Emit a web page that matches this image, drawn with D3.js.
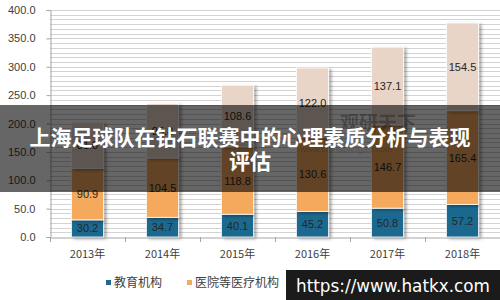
<!DOCTYPE html>
<html><head><meta charset="utf-8">
<script src="https://cdn.jsdelivr.net/npm/d3@7/dist/d3.min.js"></script>
<style>body{margin:0;background:#fff}svg{display:block}</style>
</head><body>
<svg id="c" width="500" height="300"></svg>
<script>
const years = ['2013年','2014年','2015年','2016年','2017年','2018年'];
const eduValues = [30.2, 34.7, 40.1, 45.2, 50.8, 57.2];
const hospValues = [90.9, 104.5, 118.8, 130.6, 146.7, 165.4];
const psyValues = [81.0, 95.8, 108.6, 122.0, 137.1, 154.5];
const seriesNames = ['教育机构', '医院等医疗机构', '专业心理咨询机构'];
const yTicks = [0, 50, 100, 150, 200, 250, 300, 350, 400];
const titleLines = ['上海足球队在钻石联赛中的心理素质分析与表现', '评估'];
const watermark = 'https://www.hatkx.com';

const colors = ['#1f6990', '#f5a95d', '#e9d5c7'];
const svg = d3.select('#c');
const font = '"Liberation Sans", Arial, "Noto Sans CJK SC", sans-serif';
const cjk = '"Noto Sans CJK SC", "Liberation Sans", sans-serif';

const x = d3.scaleBand().domain(years).range([50, 500]).paddingInner(0.57).paddingOuter(0.285);
const y = d3.scaleLinear().domain([0, 400]).range([237, 10]);

const defs = svg.append('defs');
const f = defs.append('filter').attr('id','sh').attr('x','-20%').attr('y','-20%').attr('width','150%').attr('height','150%');
f.append('feDropShadow').attr('dx',2.5).attr('dy',1.5).attr('stdDeviation',1.5).attr('flood-color','#000').attr('flood-opacity',0.35);

// minor gridlines
const grid = d3.range(0, 400.001, 50/6);
svg.append('g').selectAll('line').data(grid.filter(v => v > 0)).join('line')
  .attr('x1', 50).attr('x2', 500)
  .attr('y1', d => Math.round(y(d)) + 0.5).attr('y2', d => Math.round(y(d)) + 0.5)
  .attr('stroke', '#d3d3d3').attr('stroke-width', 1);

// stacked data
const rows = years.map((yr, i) => ({year: yr, s0: eduValues[i], s1: hospValues[i], s2: psyValues[i]}));
const stack = d3.stack().keys(['s0','s1','s2'])(rows);

const gBars = svg.append('g');
stack.forEach((layer, li) => {
  gBars.append('g').selectAll('rect').data(layer).join('rect')
    .attr('x', d => x(d.data.year))
    .attr('width', x.bandwidth())
    .attr('y', d => y(d[1]))
    .attr('height', d => y(d[0]) - y(d[1]))
    .attr('fill', colors[li])
    .attr('stroke', '#fff').attr('stroke-width', 0.8)
    .attr('filter', 'url(#sh)');
});

// faint logo watermark (behind the labels)
svg.append('text').attr('x', 340).attr('y', 130).attr('font-family', cjk).attr('font-weight', 'bold')
  .attr('font-size', 19).attr('fill', '#333').attr('opacity', 0.35).text('观研天下');
svg.append('text').attr('x', 300).attr('y', 152).attr('font-family', font)
  .attr('font-size', 9).attr('fill', '#555').attr('opacity', 0.3).text('www.chinabaogao.com');

stack.forEach((layer, li) => {
  svg.append('g').selectAll('text').data(layer).join('text')
    .attr('x', d => x(d.data.year) + x.bandwidth()/2)
    .attr('y', d => (y(d[0]) + y(d[1]))/2 + 4)
    .attr('text-anchor', 'middle')
    .attr('font-family', font).attr('font-size', 11)
    .attr('fill', '#262626')
    .text(d => (d[1]-d[0]).toFixed(1));
});

// axes
const yAxis = svg.append('g').attr('transform', 'translate(50.5,0)')
  .call(d3.axisLeft(y).tickValues(yTicks).tickFormat(d => d.toFixed(1)).tickSize(4).tickPadding(11));
yAxis.select('.domain').attr('stroke', '#a6a6a6');
yAxis.selectAll('.tick line').attr('stroke', '#a6a6a6');
yAxis.selectAll('text').attr('font-family', font).attr('font-size', 11).attr('fill', '#404040');

const xAxis = svg.append('g').attr('transform', 'translate(0,237.5)')
  .call(d3.axisBottom(x).tickSize(0).tickPadding(13));
xAxis.select('.domain').attr('stroke', '#a6a6a6');
xAxis.selectAll('text').attr('font-family', cjk).attr('font-size', 11).attr('fill', '#404040');
const step = x.step();
svg.append('g').selectAll('line').data(d3.range(years.length + 1)).join('line')
  .attr('x1', i => 50.5 + i*step).attr('x2', i => 50.5 + i*step)
  .attr('y1', 237).attr('y2', 242).attr('stroke', '#a6a6a6');

// legend
const legX = [106, 187, 300];
const leg = svg.append('g');
seriesNames.forEach((n, i) => {
  leg.append('rect').attr('x', legX[i]).attr('y', 280).attr('width', 5).attr('height', 5).attr('fill', colors[i]);
  leg.append('text').attr('x', legX[i] + 8).attr('y', 287).attr('font-family', cjk)
    .attr('font-size', 12).attr('fill', '#404040').text(n);
});

// title overlay
svg.append('rect').attr('x', 0).attr('y', 105).attr('width', 500).attr('height', 87)
  .attr('fill', '#000').attr('opacity', 0.6);
svg.append('g').selectAll('text').data(titleLines).join('text')
  .attr('x', 250).attr('y', (d, i) => 145 + i*24)
  .attr('text-anchor', 'middle')
  .attr('font-family', cjk).attr('font-weight', 'bold').attr('font-size', 21)
  .attr('fill', '#fff').text(d => d);

// url watermark
svg.append('rect').attr('x', 286).attr('y', 270).attr('width', 214).attr('height', 30).attr('fill', '#1b1b1b');
svg.append('text').attr('x', 296).attr('y', 292)
  .attr('font-family', '"DejaVu Sans", sans-serif').attr('font-size', 18)
  .attr('textLength', 194).attr('lengthAdjust', 'spacingAndGlyphs')
  .attr('fill', '#fff').text(watermark);
</script>
</body></html>
